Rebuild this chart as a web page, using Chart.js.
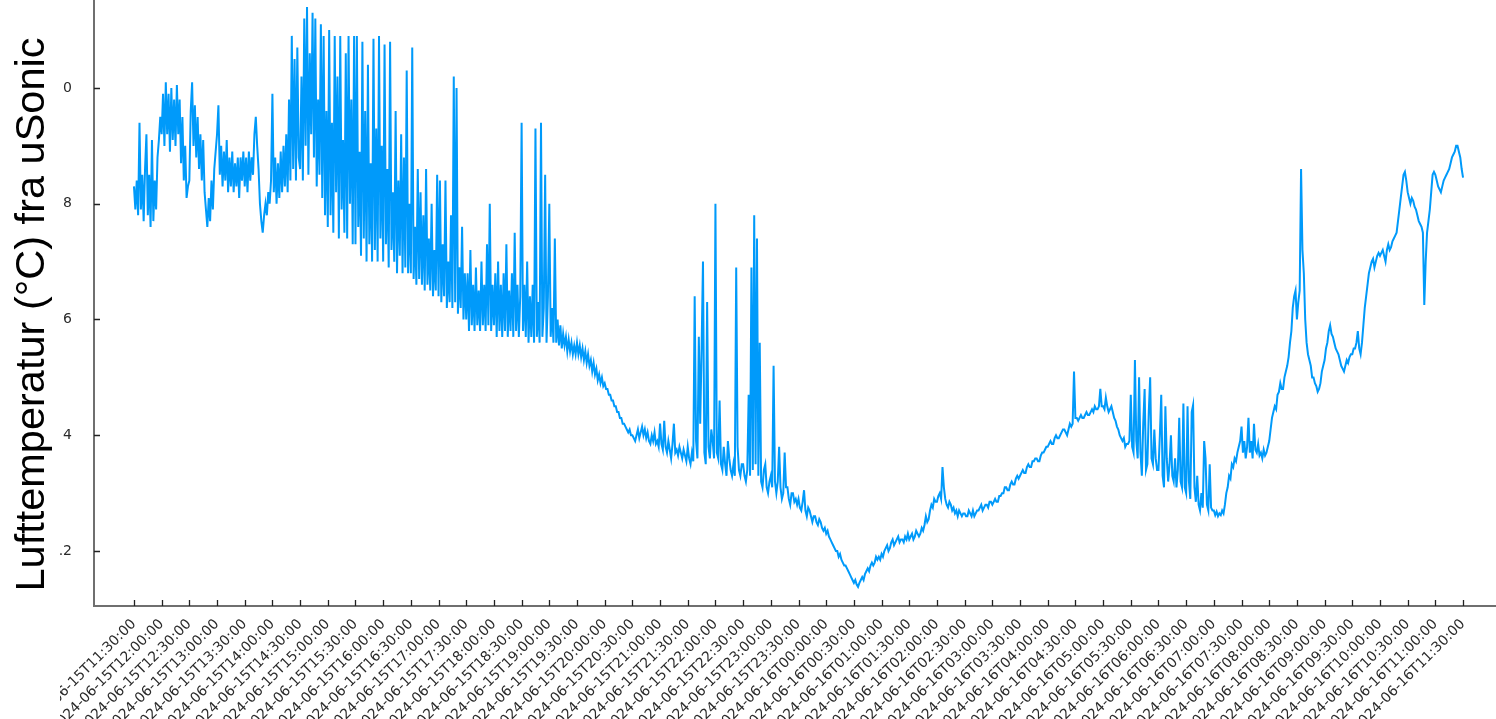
<!DOCTYPE html>
<html>
<head>
<meta charset="utf-8">
<script src="https://cdn.jsdelivr.net/npm/chart.js@4"></script>
<style>
  html, body { margin: 0; padding: 0; background: #fff; overflow: hidden; }
  #wrap { width: 1496px; height: 719px; overflow: hidden; }
</style>
</head>
<body>
<div id="wrap"><canvas id="c" width="1496" height="800"></canvas></div>
<script>
// Sample spacing of the series, minutes after 2024-06-15T11:30:00
const sampleStepMin = 1.5;

// Air temperature (°C) from the ultrasonic anemometer; each row is one half hour
const lufttemp = [
  8.3, 7.9, 8.4, 7.8, 9.4, 7.9, 8.5, 7.7, 8.6, 9.2, 7.8, 8.5, 7.6, 9.1, 7.7, 8.4, 7.9, 8.8, 9.1, 9.5,
  9.2, 9.9, 9.0, 10.1, 9.2, 9.9, 8.9, 10.0, 9.1, 9.8, 9.0, 10.05, 9.2, 9.8, 8.7, 9.5, 8.4, 9.0, 8.1, 8.3,
  8.4, 9.6, 10.1, 9.0, 9.7, 8.8, 9.5, 8.6, 9.2, 8.4, 9.1, 8.2, 7.9, 7.6, 8.1, 7.7, 8.4, 7.9, 8.6, 8.9,
  9.2, 9.7, 8.5, 9.0, 8.3, 8.9, 8.4, 9.1, 8.2, 8.8, 8.3, 8.9, 8.2, 8.7, 8.3, 8.8, 8.1, 8.8, 8.4, 8.9,
  8.3, 8.8, 8.2, 8.9, 8.4, 8.8, 8.5, 9.2, 9.5, 9.0, 8.6, 8.0, 7.7, 7.5, 7.8, 8.0, 7.8, 8.2, 8.0, 8.4,
  9.9, 8.2, 8.8, 8.0, 8.7, 8.1, 8.9, 8.2, 9.0, 8.3, 9.2, 8.2, 9.8, 8.4, 10.9, 8.6, 10.5, 8.4, 10.7, 8.8,
  8.6, 10.2, 8.4, 11.2, 9.0, 11.4, 8.5, 10.6, 9.2, 11.3, 8.8, 11.2, 8.3, 9.8, 8.5, 11.1, 8.1, 10.9, 7.8, 9.6,
  7.6, 11.0, 7.8, 9.4, 7.5, 10.9, 8.2, 10.2, 7.4, 10.9, 7.9, 9.1, 7.5, 10.6, 7.4, 10.9, 8.0, 9.8, 7.3, 10.9,
  7.3, 10.9, 7.6, 8.9, 7.1, 10.8, 7.4, 9.6, 7.0, 10.4, 7.3, 8.7, 7.0, 10.85, 7.2, 9.3, 7.0, 10.9, 7.4, 9.0,
  7.0, 10.75, 7.3, 8.6, 6.9, 10.8, 7.2, 8.2, 7.0, 9.6, 6.8, 8.4, 7.1, 9.2, 6.8, 8.8, 6.9, 10.3, 6.8, 8.0,
  6.8, 10.7, 6.7, 7.6, 6.6, 8.6, 6.7, 8.2, 6.6, 7.8, 6.5, 8.6, 6.6, 7.4, 6.5, 8.0, 6.4, 7.2, 6.5, 8.5,
  6.4, 8.4, 6.3, 7.3, 6.4, 8.4, 6.2, 7.0, 6.3, 7.8, 6.2, 10.2, 6.3, 10.0, 6.1, 6.9, 6.2, 7.6, 6.0, 6.8,
  6.0, 6.8, 5.8, 7.2, 5.9, 6.6, 5.8, 6.9, 5.9, 6.5, 5.8, 7.0, 5.9, 6.6, 5.8, 7.3, 5.9, 8.0, 5.8, 6.6,
  5.9, 6.8, 5.7, 7.0, 5.8, 6.6, 5.7, 6.8, 5.8, 7.3, 5.7, 6.5, 5.8, 6.8, 5.7, 7.5, 5.8, 6.6, 5.7, 6.4,
  9.4, 5.8, 6.6, 5.7, 7.0, 5.6, 6.4, 5.7, 6.6, 5.6, 9.3, 5.7, 6.3, 5.6, 9.4, 5.7, 6.2, 8.5, 5.6, 6.4,
  8.0, 5.7, 6.2, 5.6, 7.4, 5.6, 6.0, 5.55, 5.9, 5.5, 5.75, 5.55, 5.7, 5.45, 5.65, 5.45, 5.6, 5.4, 5.55, 5.4,
  5.6, 5.4, 5.55, 5.35, 5.5, 5.3, 5.45, 5.25, 5.4, 5.2, 5.3, 5.1, 5.25, 5.05, 5.15, 4.95, 5.05, 4.9, 5.0, 4.85,
  4.9, 4.8, 4.8, 4.7, 4.7, 4.6, 4.6, 4.5, 4.5, 4.4, 4.4, 4.3, 4.3, 4.2, 4.2, 4.15, 4.1, 4.05, 4.1, 4.0,
  4.0, 3.95, 3.9, 4.0, 4.1, 3.95, 4.05, 4.15, 4.0, 4.1, 3.95, 4.05, 3.9, 3.85, 4.0, 3.9, 4.05, 3.85, 3.9, 3.8,
  4.2, 3.85, 3.75, 4.25, 3.8, 3.7, 3.9, 3.75, 3.6, 3.85, 4.2, 3.7, 3.75, 3.65, 3.8, 3.7, 3.6, 3.75, 3.65, 3.55,
  3.8, 3.6, 3.5, 3.7, 3.55, 6.4, 3.9, 3.6, 5.7, 4.2, 5.5, 7.0, 3.7, 3.5, 6.3, 3.8, 3.6, 4.1, 3.9, 3.6,
  8.0, 3.7, 3.6, 4.6, 3.5, 3.4, 3.8, 3.5, 3.3, 3.9, 3.6, 3.4, 3.3, 3.5, 3.3, 6.9, 3.8, 3.4, 3.3, 3.5,
  3.5, 3.3, 3.2, 3.4, 4.7, 3.3, 6.9, 3.4, 7.8, 3.5, 7.4, 3.3, 5.6, 3.2, 3.1, 3.4, 3.5, 3.1, 3.0, 3.2,
  3.3, 3.1, 5.2, 3.2, 3.0, 3.2, 3.8, 3.1, 2.9, 3.0, 3.7, 3.1, 3.1, 2.9, 2.8, 3.0, 3.0, 2.85, 2.9, 2.8,
  2.9, 2.75, 2.7, 2.85, 3.05, 2.7, 2.6, 2.75, 2.7, 2.6, 2.5, 2.6, 2.6, 2.5, 2.45, 2.55, 2.5, 2.4, 2.35, 2.4,
  2.3, 2.35, 2.25, 2.2, 2.15, 2.1, 2.05, 2.0, 2.0, 1.9, 1.95, 1.85, 1.8, 1.75, 1.75, 1.7, 1.65, 1.6, 1.55, 1.5,
  1.45, 1.5, 1.42, 1.38, 1.45, 1.5, 1.55, 1.5, 1.6, 1.65, 1.7, 1.65, 1.75, 1.8, 1.75, 1.8, 1.9, 1.85, 1.9, 1.85,
  1.95, 1.9, 2.0, 2.05, 2.1, 2.0, 2.05, 2.15, 2.2, 2.1, 2.15, 2.2, 2.25, 2.15, 2.2, 2.2, 2.15, 2.25, 2.2, 2.3,
  2.2, 2.25, 2.3, 2.2, 2.25, 2.35, 2.3, 2.25, 2.3, 2.4, 2.35, 2.45, 2.6, 2.5, 2.55, 2.7, 2.8, 2.75, 2.9, 2.85,
  2.85, 2.95, 3.0, 2.9, 3.45, 3.1, 2.9, 2.8, 2.75, 2.85, 2.8, 2.7, 2.75, 2.65, 2.7, 2.6, 2.7, 2.65, 2.6, 2.65,
  2.65, 2.6, 2.6, 2.7, 2.65, 2.6, 2.7, 2.6, 2.65, 2.7, 2.7, 2.75, 2.8, 2.7, 2.75, 2.8, 2.8, 2.75, 2.85, 2.85,
  2.8, 2.85, 2.9, 2.85, 2.85, 2.95, 2.95, 3.0, 3.0, 3.1, 3.1, 3.05, 3.05, 3.15, 3.2, 3.15, 3.15, 3.25, 3.3, 3.25,
  3.3, 3.35, 3.4, 3.35, 3.35, 3.45, 3.5, 3.45, 3.45, 3.55, 3.55, 3.6, 3.6, 3.55, 3.55, 3.65, 3.7, 3.7, 3.75, 3.8,
  3.8, 3.85, 3.9, 3.85, 3.85, 3.95, 4.0, 3.95, 3.95, 4.0, 4.05, 4.1, 4.1, 4.05, 4.0, 4.1, 4.2, 4.15, 4.2, 5.1,
  4.3, 4.3, 4.25, 4.3, 4.35, 4.3, 4.3, 4.35, 4.4, 4.35, 4.35, 4.4, 4.45, 4.4, 4.5, 4.45, 4.45, 4.5, 4.8, 4.5,
  4.5, 4.45, 4.65, 4.5, 4.4, 4.45, 4.5, 4.4, 4.3, 4.25, 4.15, 4.1, 4.0, 3.95, 3.9, 3.95, 3.8, 3.85, 3.85, 3.9,
  4.7, 3.8, 3.7, 5.3, 3.9, 3.6, 5.0, 3.7, 3.3, 4.2, 4.8, 3.4, 3.5, 4.4, 5.0, 3.6, 3.5, 4.1, 3.6, 3.4,
  3.4, 4.0, 4.7, 3.3, 3.1, 4.5, 3.6, 3.2, 3.5, 4.0, 3.3, 3.2, 3.6, 3.1, 3.4, 4.3, 3.2, 3.1, 4.55, 3.1,
  3.0, 4.5, 3.2, 2.9, 4.4, 4.52, 3.1, 2.85, 3.3, 2.8, 2.7, 3.0, 2.75, 3.9, 3.6, 2.8, 2.7, 3.5, 2.75, 2.7,
  2.7, 2.62, 2.68, 2.6, 2.65, 2.62, 2.7, 2.65, 2.8, 3.0, 3.1, 3.3, 3.25, 3.5, 3.45, 3.6, 3.55, 3.7, 3.8, 3.9,
  4.15, 3.7, 3.9, 3.6, 3.8, 4.3, 3.7, 3.9, 3.6, 4.2, 3.75, 3.7, 3.85, 3.65, 3.7, 3.6, 3.75, 3.65, 3.7, 3.8,
  3.9, 4.1, 4.3, 4.4, 4.5, 4.45, 4.7, 4.75, 4.9, 4.8, 4.8, 5.0, 5.1, 5.2, 5.35, 5.6, 5.8, 6.2, 6.4, 6.5,
  6.0, 6.3, 6.5, 8.6, 7.2, 6.8, 6.0, 5.6, 5.4, 5.3, 5.2, 5.0, 5.0, 4.9, 4.85, 4.75, 4.8, 4.9, 5.1, 5.2,
  5.3, 5.5, 5.6, 5.8, 5.9, 5.75, 5.7, 5.6, 5.5, 5.45, 5.4, 5.3, 5.2, 5.15, 5.1, 5.2, 5.3, 5.25, 5.35, 5.4,
  5.4, 5.5, 5.5, 5.6, 5.8, 5.5, 5.4, 5.6, 5.9, 6.2, 6.4, 6.6, 6.8, 6.9, 7.0, 7.05, 6.9, 7.0, 7.1, 7.15,
  7.1, 7.15, 7.2, 7.1, 7.0, 7.2, 7.3, 7.2, 7.25, 7.35, 7.4, 7.45, 7.5, 7.7, 7.9, 8.1, 8.3, 8.5, 8.55, 8.4,
  8.2, 8.1, 8.0, 8.1, 8.05, 7.95, 7.9, 7.8, 7.7, 7.65, 7.6, 7.5, 6.25, 7.0, 7.5, 7.7, 7.9, 8.2, 8.5, 8.55,
  8.5, 8.4, 8.3, 8.25, 8.2, 8.3, 8.4, 8.45, 8.5, 8.55, 8.6, 8.7, 8.8, 8.85, 8.9, 9.0, 9.0, 8.9, 8.8, 8.6,
  8.45
];

// Half-hourly time ticks (minutes after the first one) and their labels
const xTickMinutes = [
  0, 30, 60, 90, 120, 150, 180, 210, 240, 270, 300, 330, 360, 390, 420, 450,
  480, 510, 540, 570, 600, 630, 660, 690, 720, 750, 780, 810, 840, 870, 900, 930,
  960, 990, 1020, 1050, 1080, 1110, 1140, 1170, 1200, 1230, 1260, 1290, 1320, 1350, 1380, 1410,
  1440
];
const xTickLabels = [
  "2024-06-15T11:30:00", "2024-06-15T12:00:00", "2024-06-15T12:30:00", "2024-06-15T13:00:00",
  "2024-06-15T13:30:00", "2024-06-15T14:00:00", "2024-06-15T14:30:00", "2024-06-15T15:00:00",
  "2024-06-15T15:30:00", "2024-06-15T16:00:00", "2024-06-15T16:30:00", "2024-06-15T17:00:00",
  "2024-06-15T17:30:00", "2024-06-15T18:00:00", "2024-06-15T18:30:00", "2024-06-15T19:00:00",
  "2024-06-15T19:30:00", "2024-06-15T20:00:00", "2024-06-15T20:30:00", "2024-06-15T21:00:00",
  "2024-06-15T21:30:00", "2024-06-15T22:00:00", "2024-06-15T22:30:00", "2024-06-15T23:00:00",
  "2024-06-15T23:30:00", "2024-06-16T00:00:00", "2024-06-16T00:30:00", "2024-06-16T01:00:00",
  "2024-06-16T01:30:00", "2024-06-16T02:00:00", "2024-06-16T02:30:00", "2024-06-16T03:00:00",
  "2024-06-16T03:30:00", "2024-06-16T04:00:00", "2024-06-16T04:30:00", "2024-06-16T05:00:00",
  "2024-06-16T05:30:00", "2024-06-16T06:00:00", "2024-06-16T06:30:00", "2024-06-16T07:00:00",
  "2024-06-16T07:30:00", "2024-06-16T08:00:00", "2024-06-16T08:30:00", "2024-06-16T09:00:00",
  "2024-06-16T09:30:00", "2024-06-16T10:00:00", "2024-06-16T10:30:00", "2024-06-16T11:00:00",
  "2024-06-16T11:30:00"
];

// Temperature ticks and the text printed beside them
const yTickValues = [10, 8, 6, 4, 2];
const yTickText = ["0", "8", "6", "4", ".2"];

const points = lufttemp.map((v, i) => ({ x: i * sampleStepMin, y: v }));

// Short inward tick marks on both axes
const innerTicks = {
  id: 'innerTicks',
  afterDraw(chart) {
    const { ctx, chartArea: a, scales: { x, y } } = chart;
    ctx.save();
    ctx.strokeStyle = '#222';
    ctx.lineWidth = 1.3;
    ctx.beginPath();
    xTickMinutes.forEach(m => {
      const px = Math.round(x.getPixelForValue(m)) + 0.5;
      ctx.moveTo(px, a.bottom);
      ctx.lineTo(px, a.bottom - 6);
    });
    yTickValues.forEach(v => {
      const py = Math.round(y.getPixelForValue(v)) + 0.5;
      ctx.moveTo(a.left, py);
      ctx.lineTo(a.left + 6, py);
    });
    ctx.stroke();
    // the time labels stop at the left margin column
    ctx.fillStyle = '#fff';
    ctx.fillRect(0, a.bottom + 2, 60, chart.height - a.bottom);
    ctx.restore();
  }
};

function noPad(scale) {
  scale.paddingLeft = 0; scale.paddingRight = 0;
  scale.paddingTop = 0; scale.paddingBottom = 0;
}

new Chart(document.getElementById('c'), {
  type: 'line',
  data: {
    datasets: [{
      data: points,
      borderColor: '#009AFA',
      borderWidth: 2,
      pointRadius: 0,
      tension: 0,
      fill: false
    }]
  },
  options: {
    responsive: false,
    animation: false,
    events: [],
    layout: { padding: 0 },
    plugins: { legend: { display: false }, tooltip: { enabled: false } },
    scales: {
      x: {
        type: 'linear',
        min: -43.3,
        max: 1475.7,
        afterBuildTicks(scale) { scale.ticks = xTickMinutes.map(v => ({ value: v })); },
        afterFit(scale) { scale.height = 194; noPad(scale); },
        grid: { display: false, drawTicks: false },
        border: { display: true, color: '#6f6f6f', width: 2 },
        ticks: {
          autoSkip: false,
          maxRotation: 45,
          minRotation: 45,
          padding: 10,
          color: '#2a2a2a',
          font: { family: 'DejaVu Sans', size: 14 },
          callback(value) {
            const i = xTickMinutes.indexOf(value);
            return i >= 0 ? xTickLabels[i] : '';
          }
        }
      },
      y: {
        type: 'linear',
        min: 1.05,
        max: 11.52,
        afterBuildTicks(scale) { scale.ticks = yTickValues.map(v => ({ value: v })); },
        afterFit(scale) { scale.width = 94; noPad(scale); },
        grid: { display: false, drawTicks: false },
        border: { display: true, color: '#6f6f6f', width: 2 },
        ticks: {
          padding: 22,
          color: '#2a2a2a',
          font: { family: 'DejaVu Sans', size: 14 },
          callback(value) {
            const i = yTickValues.indexOf(value);
            return i >= 0 ? yTickText[i] : '';
          }
        },
        title: {
          display: true,
          // trailing no-break spaces set the title a little lower on the axis
          text: 'Lufttemperatur (°C) fra uSonic\u00a0\u00a0',
          color: '#000',
          font: { family: 'Liberation Sans', size: 41.5 },
          padding: { top: 8, bottom: 0 }
        }
      }
    }
  },
  plugins: [innerTicks]
});
</script>
</body>
</html>
